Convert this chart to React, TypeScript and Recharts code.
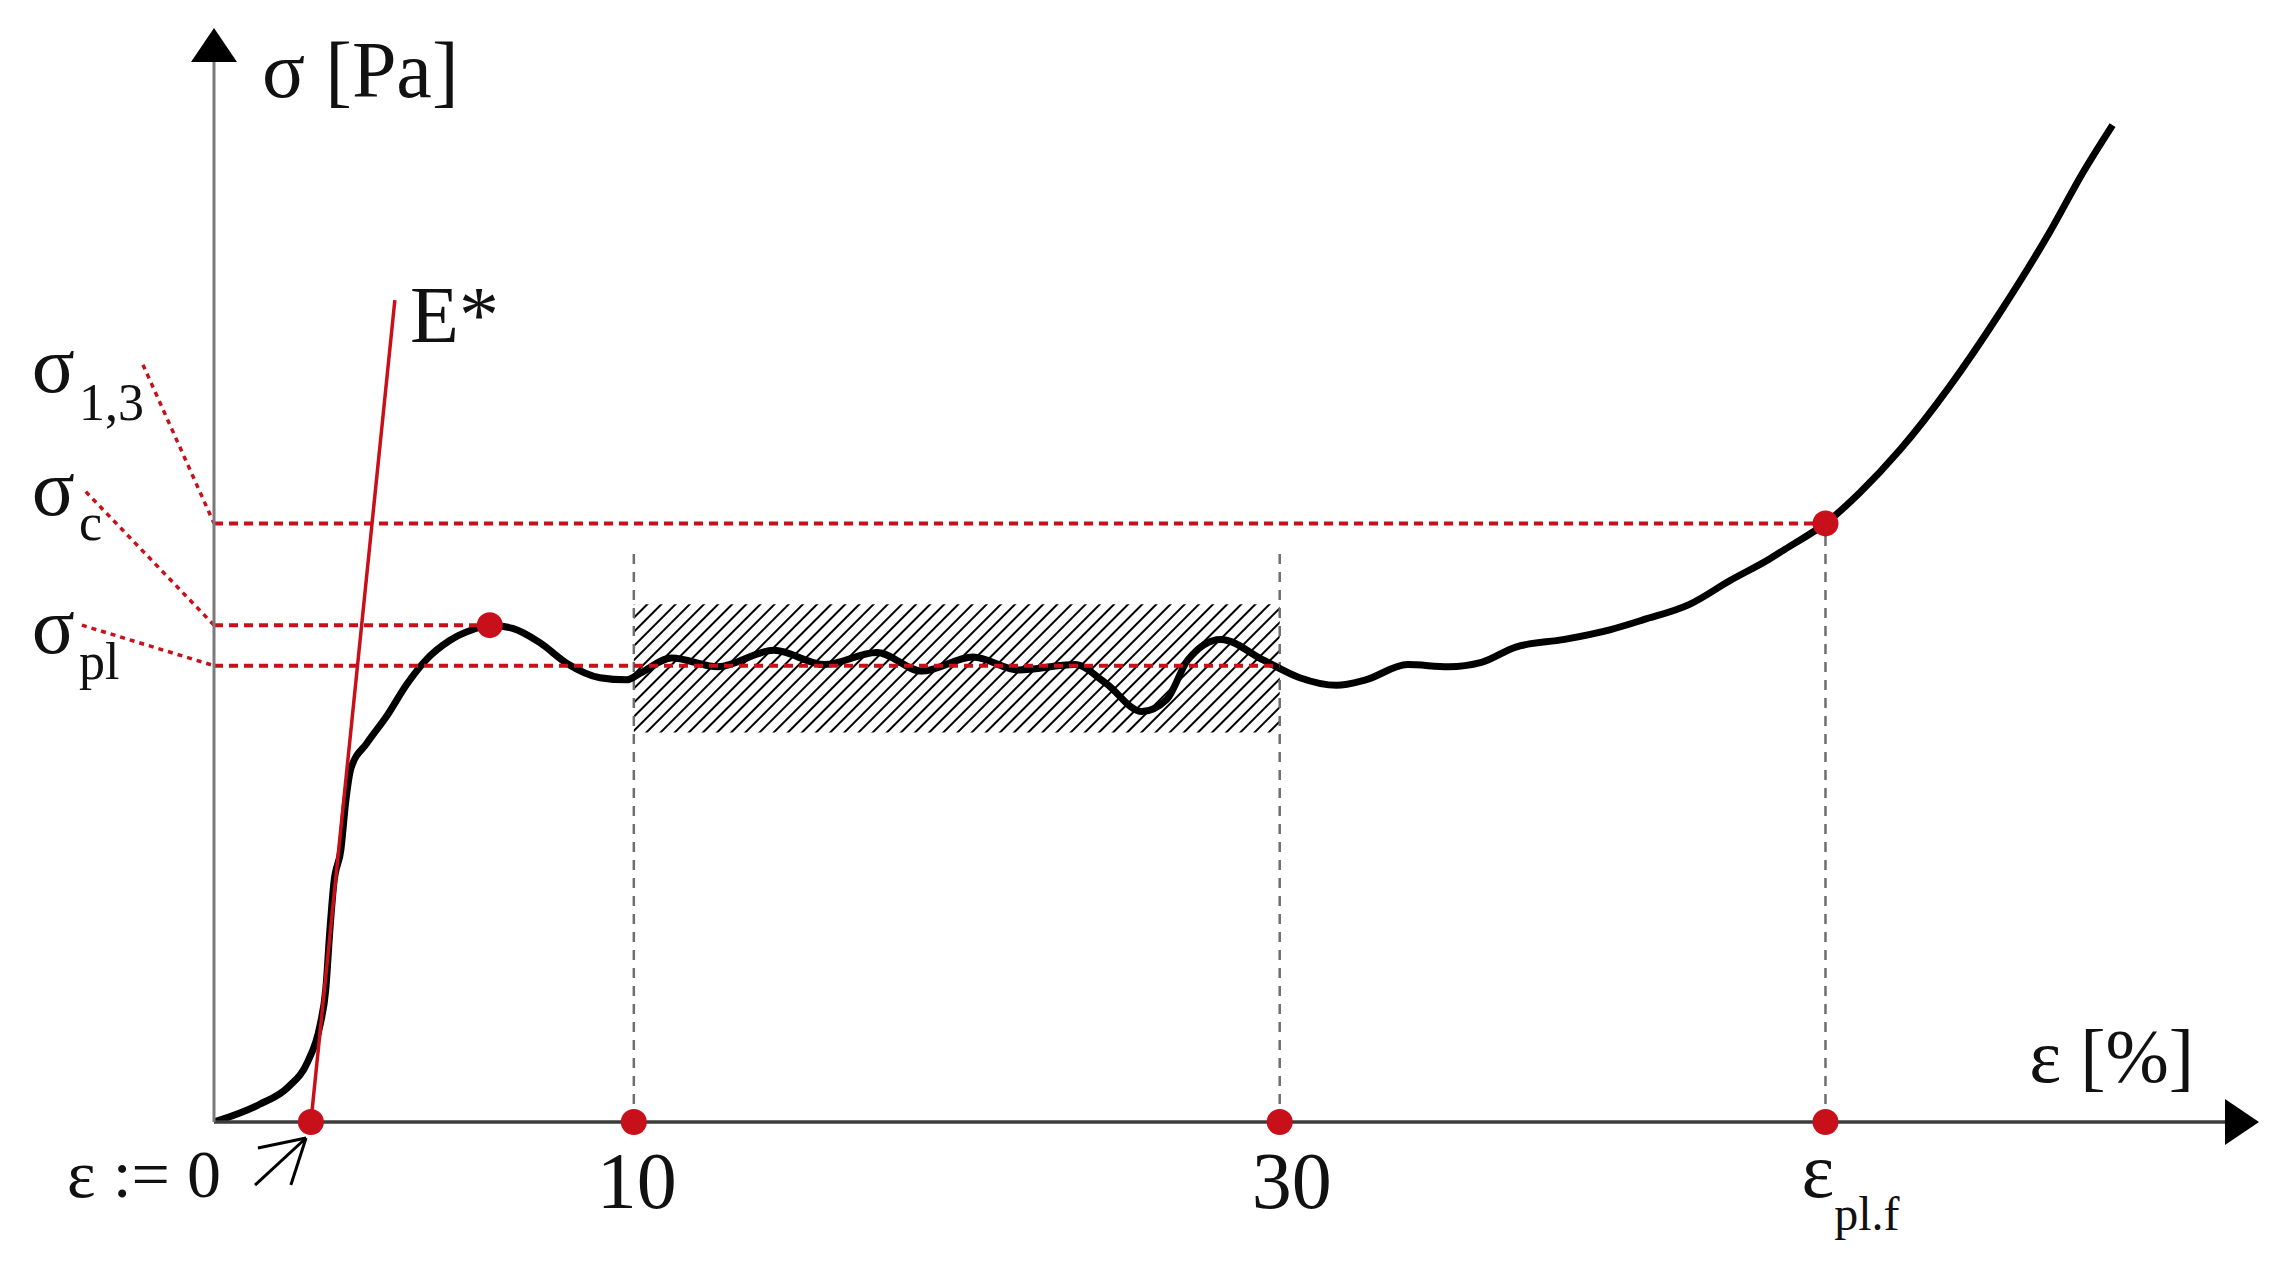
import React from "react"
import {
  ComposedChart,
  Line,
  XAxis,
  YAxis,
  ReferenceLine,
  ReferenceArea,
  ReferenceDot,
} from "recharts"

const W = 2284
const H = 1262
const FONT = "'Liberation Serif', 'Times New Roman', serif"
const RED = "#C8101A"

// strain ε [%] (ε := 0 at the E* intercept) vs stress σ (arbitrary units)
const curve = [
  { e: -3.0, s: 0 },
  { e: -1.6, s: 1.6 },
  { e: -0.7, s: 3.2 },
  { e: -0.1, s: 5.5 },
  { e: 0.28, s: 8.8 },
  { e: 0.46, s: 12.1 },
  { e: 0.59, s: 17.6 },
  { e: 0.71, s: 21.8 },
  { e: 0.93, s: 24.9 },
  { e: 1.08, s: 29.3 },
  { e: 1.24, s: 32.3 },
  { e: 1.73, s: 34.6 },
  { e: 2.35, s: 37.1 },
  { e: 2.97, s: 40.0 },
  { e: 3.59, s: 42.3 },
  { e: 4.3, s: 44.0 },
  { e: 5.02, s: 45.0 },
  { e: 5.54, s: 45.4 },
  { e: 6.25, s: 45.1 },
  { e: 7.09, s: 43.8 },
  { e: 7.93, s: 41.9 },
  { e: 8.95, s: 40.6 },
  { e: 9.78, s: 40.4 },
  { e: 10.19, s: 41.0 },
  { e: 11.18, s: 42.4 },
  { e: 12.6, s: 41.6 },
  { e: 14.33, s: 43.1 },
  { e: 15.91, s: 41.8 },
  { e: 17.52, s: 42.9 },
  { e: 18.92, s: 41.2 },
  { e: 20.5, s: 42.5 },
  { e: 21.92, s: 41.3 },
  { e: 23.65, s: 41.8 },
  { e: 24.61, s: 40.1 },
  { e: 25.73, s: 37.5 },
  { e: 26.5, s: 38.6 },
  { e: 27.15, s: 42.2 },
  { e: 28.17, s: 44.1 },
  { e: 29.5, s: 42.2 },
  { e: 30.62, s: 40.6 },
  { e: 31.76, s: 39.9 },
  { e: 32.66, s: 40.4 },
  { e: 33.96, s: 41.8 },
  { e: 35.23, s: 41.6 },
  { e: 36.25, s: 42.0 },
  { e: 37.31, s: 43.4 },
  { e: 38.82, s: 44.1 },
  { e: 40.25, s: 45.0 },
  { e: 41.27, s: 45.9 },
  { e: 42.69, s: 47.3 },
  { e: 43.96, s: 49.5 },
  { e: 45.14, s: 51.4 },
  { e: 45.79, s: 52.6 },
  { e: 46.9, s: 54.7 },
  { e: 47.96, s: 57.5 },
  { e: 49.2, s: 61.4 },
  { e: 50.74, s: 67.2 },
  { e: 52.29, s: 73.9 },
  { e: 53.84, s: 81.3 },
  { e: 54.86, s: 86.7 },
  { e: 55.79, s: 91.1 },
]

// tangent E*
const eStar = [
  { e: 0, s: 0 },
  { e: 2.6, s: 75.1 },
]

const EPS_MIN = -3
const EPS_MAX = 60.2
const SIG_MAX = 99.6
const EPS_PLF = 46.9
const SIG_13 = 54.7
const SIG_C = 45.4
const SIG_PL = 41.7
const PEAK_E = 5.54
const PLATEAU = [10, 30]
const BAND = [35.6, 47.3]
const GUIDE_TOP = 52.4

const xTicks = [0, 10, 30, EPS_PLF]

const redPoints = [
  { e: 0, s: 0 },
  { e: 10, s: 0 },
  { e: 30, s: 0 },
  { e: EPS_PLF, s: 0 },
  { e: PEAK_E, s: SIG_C },
  { e: EPS_PLF, s: SIG_13 },
]

// horizontal stress levels: level, where the dashed line stops
const levels = [
  { s: SIG_13, end: EPS_PLF },
  { s: SIG_C, end: PEAK_E },
  { s: SIG_PL, end: 30 },
]

// dotted leaders from the σ labels to the axis
const leaders = [
  { e: -5.2, s: 69.2, to: SIG_13 },
  { e: -6.97, s: 57.6, to: SIG_C },
  { e: -7.09, s: 45.4, to: SIG_PL },
]

const sigmaLabels = [
  { e: -8.64, s: 66.7, sub: "1,3", dy: 28 },
  { e: -8.64, s: 55.5, sub: "c", dy: 25 },
  { e: -8.64, s: 42.9, sub: "pl", dy: 26 },
]

// small arrow pointing at ε := 0
const zeroArrow = [
  [{ x: -1.73, y: -5.76 }, { x: -0.15, y: -1.46 }],
  [{ x: -1.64, y: -2.38 }, { x: -0.15, y: -1.46 }],
  [{ x: -0.62, y: -5.76 }, { x: -0.15, y: -1.46 }],
]

function StrainTick(props: any) {
  const { x, y, payload } = props
  const v = payload.value
  const common = { fontFamily: FONT, fill: "#111" }
  if (v === 0) {
    return (
      <text x={x - 90} y={y + 75} textAnchor="end" fontSize={68} {...common}>
        ε := 0
      </text>
    )
  }
  if (v === EPS_PLF) {
    return (
      <text x={x - 24} y={y + 75} fontSize={78} {...common}>
        ε
        <tspan fontSize={48} dy={33}>
          pl.f
        </tspan>
      </text>
    )
  }
  return (
    <text x={x + (v === 30 ? 12 : 3)} y={y + 86} textAnchor="middle" fontSize={80} {...common}>
      {v}
    </text>
  )
}

const textShape = (content: React.ReactNode, size = 80) => (p: any) => (
  <text x={p.cx} y={p.cy} fontSize={size} fontFamily={FONT} fill="#111">
    {content}
  </text>
)

export default function App() {
  return (
    <div style={{ position: "absolute", left: 0, top: 0, width: W, height: H, background: "#fff" }}>
      <ComposedChart width={W} height={H} margin={{ top: 32, right: 29, bottom: 0, left: 0 }}>
        <defs>
          <marker
            id="arrowHead"
            markerUnits="userSpaceOnUse"
            markerWidth={34}
            markerHeight={46}
            viewBox="0 0 34 46"
            refX={30}
            refY={23}
            orient="auto-start-reverse"
          >
            <path d="M0,0 L34,23 L0,46 Z" fill="#000" />
          </marker>
          <pattern id="hatch" patternUnits="userSpaceOnUse" width={10} height={10} patternTransform="rotate(45)">
            <line x1={5} y1={0} x2={5} y2={10} stroke="#000" strokeWidth={2} />
          </pattern>
        </defs>
        <XAxis
          dataKey="e"
          type="number"
          domain={[EPS_MIN, EPS_MAX]}
          allowDataOverflow
          ticks={xTicks}
          interval={0}
          height={140}
          tickLine={false}
          tickSize={0}
          tickMargin={0}
          tick={<StrainTick />}
          axisLine={{ stroke: "#3c3c3c", strokeWidth: 3.5, markerEnd: "url(#arrowHead)" }}
        />
        <YAxis
          type="number"
          domain={[0, SIG_MAX]}
          allowDataOverflow
          width={214}
          tick={false}
          tickLine={false}
          axisLine={{ stroke: "#7a7a7a", strokeWidth: 3, markerStart: "url(#arrowHead)" }}
        />

        <ReferenceArea x1={PLATEAU[0]} x2={PLATEAU[1]} y1={BAND[0]} y2={BAND[1]} fill="url(#hatch)" fillOpacity={1} stroke="none" />

        {[PLATEAU[0], PLATEAU[1]].map((e) => (
          <ReferenceLine key={`v${e}`} segment={[{ x: e, y: 0 }, { x: e, y: GUIDE_TOP }]} stroke="#6e6e6e" strokeWidth={2.5} strokeDasharray="10 8" ifOverflow="visible" />
        ))}
        <ReferenceLine segment={[{ x: EPS_PLF, y: 0 }, { x: EPS_PLF, y: SIG_13 }]} stroke="#6e6e6e" strokeWidth={2.5} strokeDasharray="10 8" ifOverflow="visible" />

        <Line data={curve} dataKey="s" type="monotone" stroke="#000" strokeWidth={7} dot={false} activeDot={false} isAnimationActive={false} />
        <Line data={eStar} dataKey="s" type="linear" stroke={RED} strokeWidth={3.5} dot={false} activeDot={false} isAnimationActive={false} />

        {levels.map((l) => (
          <ReferenceLine key={`h${l.s}`} segment={[{ x: EPS_MIN, y: l.s }, { x: l.end, y: l.s }]} stroke={RED} strokeWidth={4} strokeDasharray="9 6" ifOverflow="visible" />
        ))}
        {leaders.map((l) => (
          <ReferenceLine key={`l${l.to}`} segment={[{ x: l.e, y: l.s }, { x: EPS_MIN, y: l.to }]} stroke={RED} strokeWidth={3.5} strokeDasharray="5 5" ifOverflow="visible" />
        ))}
        {zeroArrow.map((seg, i) => (
          <ReferenceLine key={`a${i}`} segment={seg} stroke="#000" strokeWidth={3} ifOverflow="visible" />
        ))}

        {redPoints.map((p, i) => (
          <ReferenceDot key={`p${i}`} x={p.e} y={p.s} r={13} fill={RED} stroke="none" ifOverflow="visible" />
        ))}

        {sigmaLabels.map((l) => (
          <ReferenceDot
            key={`s${l.sub}`}
            x={l.e}
            y={l.s}
            ifOverflow="visible"
            shape={textShape(
              <>
                σ
                <tspan fontSize={52} dx={4} dy={l.dy}>
                  {l.sub}
                </tspan>
              </>
            )}
          />
        ))}
        <ReferenceDot x={-1.51} y={93.7} ifOverflow="visible" shape={textShape("σ [Pa]")} />
        <ReferenceDot x={3.07} y={71.3} ifOverflow="visible" shape={textShape("E*", 80)} />
        <ReferenceDot x={53.21} y={3.65} ifOverflow="visible" shape={textShape("ε [%]", 76)} />
      </ComposedChart>
    </div>
  )
}
